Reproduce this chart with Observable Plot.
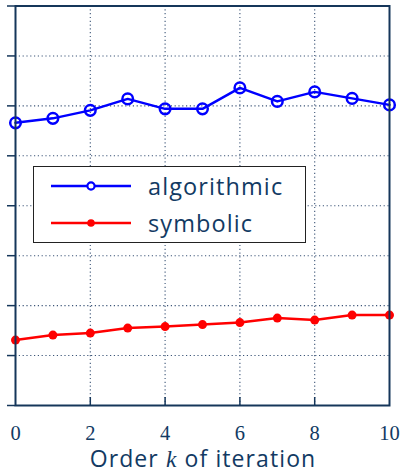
<!DOCTYPE html>
<html><head><meta charset="utf-8">
<script src="https://cdn.jsdelivr.net/npm/d3@7"></script>
<script src="https://cdn.jsdelivr.net/npm/@observablehq/plot@0.6"></script>
<style>
body{margin:0;background:#fff;}
#wrap{position:relative;width:404px;height:473px;}
#legend{position:absolute;left:33px;top:166px;width:273px;height:77px;border:1.5px solid #222;background:#fff;box-sizing:border-box;font-family:"Open Sans",sans-serif;font-size:23.5px;letter-spacing:1.1px;color:#123a63;}
.row{position:absolute;left:0;height:30px;display:flex;align-items:center;}
.row span{position:absolute;left:114px;white-space:nowrap;}
</style></head><body>
<div id="wrap"></div>
<script>
const iterations = [0,1,2,3,4,5,6,7,8,9,10];
const algorithmic = [5.66,5.75,5.91,6.14,5.94,5.94,6.36,6.09,6.28,6.15,6.02];
const symbolic = [1.31,1.41,1.45,1.55,1.58,1.62,1.66,1.75,1.71,1.81,1.81];
const xTickLabels = [0,2,4,6,8,10];
const xGrid = [2,4,6,8];
const yTicks = [0,1,2,3,4,5,6,7,8];
const yGrid = [1,2,3,4,5,6,7];

const navy = "#15365a";
const textCol = "#123a63";
const algoData = iterations.map((k,i)=>({k, v: algorithmic[i]}));
const symData = iterations.map((k,i)=>({k, v: symbolic[i]}));

const plot = Plot.plot({
  width: 404, height: 473,
  marginLeft: 15, marginRight: 15, marginTop: 5.5, marginBottom: 68,
  x: {domain: [0,10]},
  y: {domain: [0,8]},
  style: {fontFamily: "'Liberation Serif', serif", color: textCol, background: "#fff"},
  marks: [
    Plot.gridY(yGrid, {stroke: "#3d5678", strokeOpacity: 1, strokeWidth: 1.1, strokeDasharray: "1.2,2.6"}),
    Plot.gridX(xGrid, {stroke: "#3d5678", strokeOpacity: 1, strokeWidth: 1.1, strokeDasharray: "1.2,2.6"}),
    Plot.axisY(yTicks, {tickSize: 8, tickFormat: () => "", stroke: navy, strokeWidth: 1.5, label: null}),
    Plot.axisX(xGrid, {tickSize: 8, dy: -8, tickFormat: () => "", stroke: navy, strokeWidth: 1.5, label: null}),
    Plot.axisX(xTickLabels, {tickSize: 0, tickPadding: 19.5, fontSize: 20.5, fill: textCol, label: null}),
    Plot.line(symData, {x: "k", y: "v", stroke: "#ff0000", strokeWidth: 2.5}),
    Plot.dot(symData, {x: "k", y: "v", r: 4.5, fill: "#ff0000", stroke: "none"}),
    Plot.line(algoData, {x: "k", y: "v", stroke: "#0000ff", strokeWidth: 2.5}),
    Plot.dot(algoData, {x: "k", y: "v", r: 5.3, fill: "none", stroke: "#0000ff", strokeWidth: 2.5}),
    Plot.frame({stroke: navy, strokeWidth: 2})
  ]
});

const svg = d3.select(plot);
const t = svg.append("text")
  .attr("x", 203).attr("y", 466.5)
  .attr("text-anchor", "middle")
  .attr("fill", textCol)
  .style("font-family", "'Open Sans', sans-serif")
  .style("font-size", "23px")
  .style("letter-spacing", "1.1px");
t.append("tspan").text("Order ");
t.append("tspan").text("k").style("font-family","'Liberation Serif', serif").style("font-style","italic").style("font-size","23.5px");
t.append("tspan").text(" of iteration");

document.getElementById("wrap").appendChild(plot);

const legend = document.createElement("div");
legend.id = "legend";
const series = [
  {name: "algorithmic", color: "#0000ff", open: true, top: 4},
  {name: "symbolic", color: "#ff0000", open: false, top: 41}
];
series.forEach(s => {
  const row = document.createElement("div");
  row.className = "row";
  row.style.top = s.top + "px";
  row.style.width = "270px";
  const sw = d3.create("svg").attr("width", 100).attr("height", 30).style("position","absolute").style("left","0px");
  sw.append("line").attr("x1", 17).attr("x2", 97).attr("y1", 15).attr("y2", 15).attr("stroke", s.color).attr("stroke-width", 2.5);
  sw.append("circle").attr("cx", 57).attr("cy", 15).attr("r", s.open ? 3.6 : 3.8)
    .attr("fill", s.open ? "#fff" : s.color).attr("stroke", s.color).attr("stroke-width", s.open ? 2.2 : 0);
  row.appendChild(sw.node());
  const lab = document.createElement("span");
  lab.textContent = s.name;
  row.appendChild(lab);
  legend.appendChild(row);
});
document.getElementById("wrap").appendChild(legend);
</script>
</body></html>
